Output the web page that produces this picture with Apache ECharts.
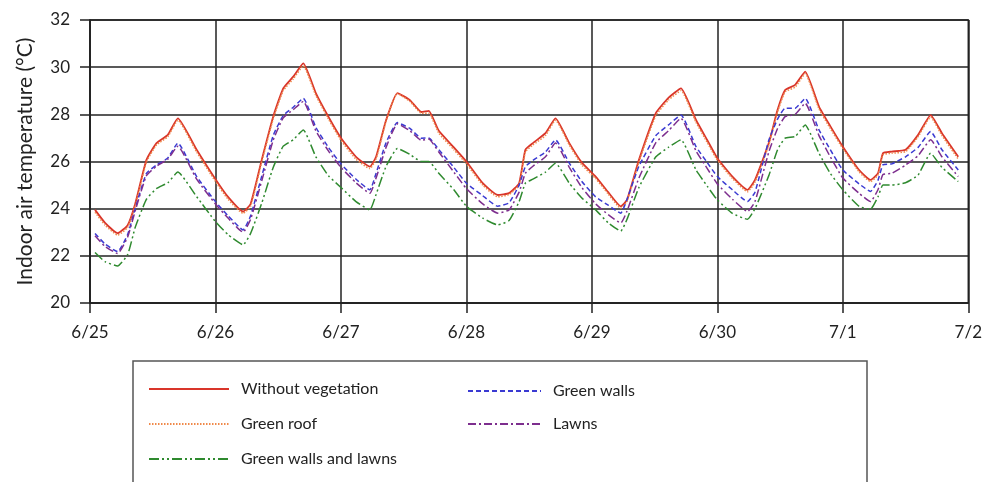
<!DOCTYPE html>
<html>
<head>
<meta charset="utf-8">
<script src="https://cdn.jsdelivr.net/npm/echarts@6/dist/echarts.min.js"></script>
<style>
html,body{margin:0;padding:0;background:#fff;}
#chart{width:985px;height:482px;}
</style>
</head>
<body>
<div id="chart"></div>
<script>
// Days since 6/25 00:00
var times = [0.04,0.12,0.22,0.30,0.36,0.45,0.53,0.62,0.70,0.85,
1.0,1.10,1.22,1.28,1.37,1.46,1.54,1.62,1.70,1.80,1.90,
2.0,2.12,2.23,2.28,2.36,2.45,2.55,2.64,2.70,2.78,2.90,
3.0,3.13,3.25,3.34,3.42,3.47,3.53,3.63,3.71,3.82,3.92,
4.03,4.13,4.23,4.28,4.375,4.51,4.61,4.71,4.83,4.92,
5.0,5.12,5.24,5.30,5.41,5.48,5.54,5.62,5.70,5.81,5.90,
6.0,6.13,6.22,6.28,6.32,6.39,6.50,6.60,6.70,6.79,6.92];

var withoutVegetation = [23.95,23.4,22.96,23.3,24.2,26.07,26.78,27.13,27.83,26.5,
25.25,24.5,23.88,24.2,26.1,27.9,29.1,29.6,30.16,28.9,27.9,
27.0,26.2,25.78,26.2,27.76,28.9,28.6,28.1,28.15,27.3,26.6,
26.0,25.08,24.58,24.66,25.08,26.5,26.78,27.2,27.83,26.78,25.95,
25.36,24.7,24.1,24.37,26.07,28.05,28.7,29.1,27.76,26.9,
26.14,25.36,24.8,25.22,26.78,28.19,29.03,29.25,29.81,28.33,27.5,
26.63,25.64,25.22,25.5,26.35,26.42,26.5,27.13,27.97,27.2,26.2];

var greenRoof = [23.85,23.3,22.88,23.2,24.1,25.98,26.7,27.05,27.75,26.4,
25.15,24.4,23.8,24.1,26.0,27.8,29.0,29.5,30.05,28.8,27.8,
26.9,26.1,25.7,26.1,27.7,28.88,28.55,28.05,28.05,27.2,26.5,
25.9,25.0,24.5,24.6,25.0,26.4,26.7,27.1,27.75,26.7,25.85,
25.28,24.62,24.02,24.3,25.98,27.95,28.6,29.0,27.66,26.8,
26.05,25.28,24.72,25.12,26.7,28.1,28.95,29.15,29.72,28.23,27.4,
26.55,25.56,25.15,25.42,26.28,26.35,26.42,27.05,27.88,27.1,26.1];

var greenWalls = [22.95,22.5,22.18,22.9,24.0,25.5,25.85,26.15,26.78,25.36,
24.3,23.7,23.1,23.7,25.4,27.1,27.95,28.3,28.68,27.45,26.6,
25.9,25.25,24.8,25.5,26.8,27.65,27.4,26.99,27.0,26.5,25.75,
25.08,24.55,24.1,24.25,25.0,25.78,26.05,26.4,26.92,25.93,25.15,
24.5,24.15,23.81,24.4,25.8,27.1,27.55,27.97,26.63,25.95,
25.36,24.8,24.3,24.7,26.9,27.8,28.26,28.26,28.68,27.34,26.5,
25.64,25.05,24.73,25.2,25.86,25.9,26.2,26.6,27.27,26.5,25.64];

var lawns = [22.85,22.4,22.1,22.8,23.9,25.4,25.8,26.1,26.65,25.25,
24.2,23.6,23.0,23.55,25.2,26.9,27.85,28.2,28.55,27.3,26.45,
25.75,25.1,24.65,25.3,26.6,27.6,27.3,26.9,26.95,26.4,25.55,
24.85,24.2,23.81,23.95,24.7,25.5,25.8,26.2,26.78,25.75,24.9,
24.2,23.75,23.39,23.9,25.3,26.8,27.3,27.83,26.45,25.7,
25.05,24.4,23.88,24.3,26.4,27.4,27.9,28.0,28.47,27.1,26.2,
25.3,24.65,24.3,24.8,25.45,25.5,25.85,26.25,26.92,26.2,25.36];

var greenWallsAndLawns = [22.14,21.75,21.57,22.05,23.2,24.4,24.85,25.1,25.55,24.51,
23.45,22.9,22.47,22.95,24.25,25.75,26.65,26.92,27.34,26.2,25.4,
24.9,24.3,23.95,24.6,25.8,26.55,26.3,26.0,26.0,25.5,24.8,
24.1,23.6,23.31,23.5,24.3,25.08,25.25,25.55,25.93,25.08,24.45,
23.95,23.4,23.05,23.55,24.9,26.2,26.6,26.92,25.64,24.95,
24.37,23.8,23.55,24.0,25.4,26.5,26.99,27.06,27.55,26.35,25.5,
24.8,24.1,23.97,24.5,25.0,25.0,25.1,25.43,26.35,25.75,25.15];

var dateLabels = ['6/25','6/26','6/27','6/28','6/29','6/30','7/1','7/2'];
var seriesNames = ['Without vegetation','Green roof','Green walls','Lawns','Green walls and lawns'];

function pairs(vals){ return times.map(function(t,i){ return [t, vals[i]]; }); }

var FONT = 'Lato, "Open Sans", sans-serif';
var chart = echarts.init(document.getElementById('chart'), null, {renderer:'canvas'});

function mk(name, vals, color, type, width){
  return {
    name: name, type: 'line', data: pairs(vals), showSymbol: false, symbol: 'none',
    smooth: 0.15, animation: false,
    lineStyle: {color: color, width: width, type: type},
    itemStyle: {color: color}
  };
}

chart.setOption({
  backgroundColor: '#fff',
  animation: false,
  grid: {left: 90, right: 15, top: 20, bottom: 179, show: true, borderColor: '#222', borderWidth: 1.5, backgroundColor: 'transparent'},
  xAxis: {
    type: 'value', min: 0, max: 7, interval: 1,
    axisLine: {show: true, onZero: false, lineStyle: {color: '#222', width: 1.5}},
    axisTick: {show: true, inside: false, length: 10, lineStyle: {color: '#222', width: 1.5}},
    axisLabel: {color: '#222', fontSize: 17, fontFamily: FONT, margin: 21,
      formatter: function(v){ return dateLabels[Math.round(v)]; }},
    splitLine: {show: true, lineStyle: {color: '#222', width: 1.5}}
  },
  yAxis: {
    type: 'value', min: 20, max: 32, interval: 2,
    name: 'Indoor air temperature (°C)', nameLocation: 'middle', nameGap: 54,
    nameTextStyle: {color: '#222', fontSize: 21, fontFamily: FONT},
    axisLine: {show: true, lineStyle: {color: '#222', width: 1.5}},
    axisTick: {show: true, inside: false, length: 10, lineStyle: {color: '#222', width: 1.5}},
    axisLabel: {color: '#222', fontSize: 17, fontFamily: FONT, margin: 20},
    splitLine: {show: true, lineStyle: {color: '#222', width: 1.5}}
  },
  legend: [
    {data: ['Without vegetation','Green roof','Green walls and lawns'], orient: 'vertical',
     left: 143, top: 376, itemWidth: 80, itemHeight: 14, itemGap: 19,
     itemStyle: {opacity: 0},
     textStyle: {color: '#222', fontSize: 16, fontFamily: FONT, padding: [0,0,0,7]}},
    {data: ['Green walls','Lawns'], orient: 'vertical',
     left: 462, top: 378, itemWidth: 73, itemHeight: 14, itemGap: 17,
     itemStyle: {opacity: 0},
     textStyle: {color: '#222', fontSize: 16, fontFamily: FONT, padding: [0,0,0,7]}}
  ],
  graphic: [{
    type: 'rect', silent: true, z: -1,
    shape: {x: 133, y: 361, width: 734, height: 140},
    style: {fill: 'none', stroke: '#555', lineWidth: 1.5}
  }],
  series: [
    mk(seriesNames[0], withoutVegetation, '#d9352a', 'solid', 1.8),
    mk(seriesNames[1], greenRoof, '#f0894a', [1.5, 1.5], 1.5),
    mk(seriesNames[2], greenWalls, '#3a3ad2', [5, 3], 1.5),
    mk(seriesNames[3], lawns, '#7d2e8e', [8, 3, 2, 3], 1.5),
    mk(seriesNames[4], greenWallsAndLawns, '#2f8a2f', [10, 3, 2, 3, 2, 3], 1.5)
  ]
});
</script>
</body>
</html>
